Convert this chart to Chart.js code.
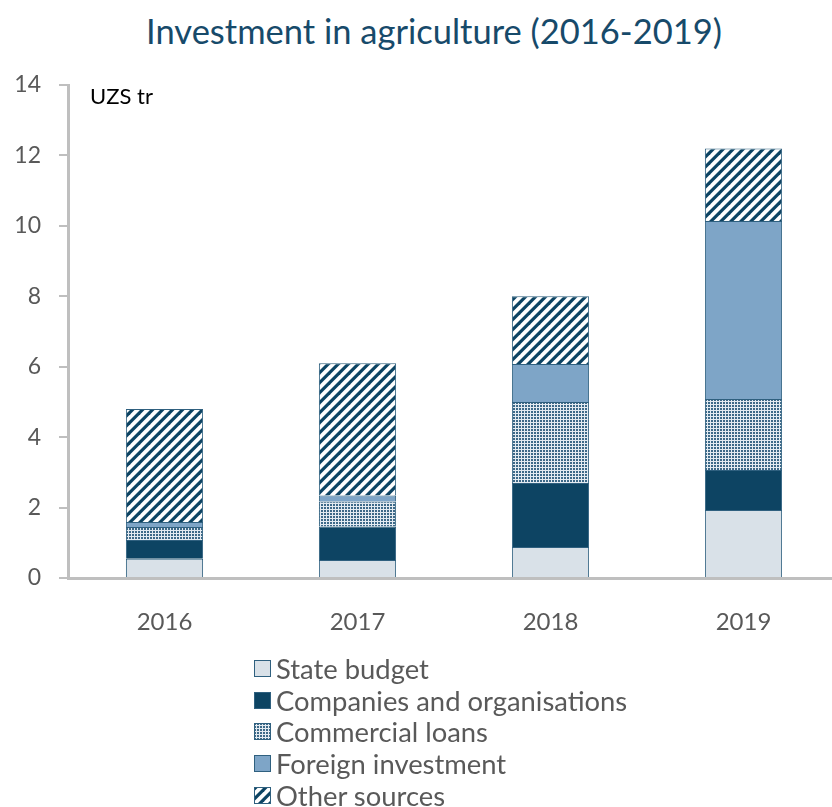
<!DOCTYPE html>
<html>
<head>
<meta charset="utf-8">
<script src="https://cdn.jsdelivr.net/npm/chart.js@4/dist/chart.umd.min.js"></script>
<style>
  html, body { margin: 0; padding: 0; background: #fff; }
  #wrap { position: relative; width: 832px; height: 807px; overflow: hidden; }
  #box { position: absolute; left: 0; top: 0; width: 850px; height: 640px; }
  #title { position: absolute; left: 0; top: 12px; width: 868px; text-align: center;
           font-family: Lato, sans-serif; font-size: 34.5px; line-height: 38px; color: #174a6a; }
  #legend { position: absolute; left: 254px; top: 653px; font-family: Lato, sans-serif;
            font-size: 27.4px; color: #595959; }
  #legend div { height: 31.6px; display: flex; align-items: center; }
  #legend canvas { margin-right: 5px; }
</style>
</head>
<body>
<div id="wrap">
  <div id="title">Investment in agriculture (2016-2019)</div>
  <div id="box"><canvas id="invChart"></canvas></div>
  <div id="legend"></div>
</div>
<script>
var years = ['2016', '2017', '2018', '2019'];
var stateBudget = [0.55, 0.51, 0.88, 1.93];
var companies = [0.53, 0.95, 1.82, 1.14];
var commercialLoans = [0.37, 0.71, 2.30, 2.01];
var foreignInvestment = [0.14, 0.17, 1.08, 5.06];
var otherSources = [3.21, 3.76, 1.92, 2.06];
var yTicks = [0, 2, 4, 6, 8, 10, 12, 14];

var navy = '#0d4463';
var edge = '#2f607f';

function dotPattern() {
  var c = document.createElement('canvas');
  c.width = 3; c.height = 3;
  var g = c.getContext('2d');
  g.fillStyle = '#e4ebf1';
  g.fillRect(0, 0, 3, 3);
  g.fillStyle = '#3d6988';
  g.fillRect(0, 0, 2, 2);
  return g.createPattern(c, 'repeat');
}

function stripePattern() {
  var c = document.createElement('canvas');
  c.width = 10; c.height = 10;
  var g = c.getContext('2d');
  g.fillStyle = '#fff';
  g.fillRect(0, 0, 10, 10);
  g.fillStyle = navy;
  // "/" stripes, wrapped so the tile repeats seamlessly
  [-10, 0, 10].forEach(function (o) {
    g.beginPath();
    g.moveTo(o, 10);
    g.lineTo(o + 4.5, 10);
    g.lineTo(o + 14.5, 0);
    g.lineTo(o + 10, 0);
    g.closePath();
    g.fill();
  });
  return g.createPattern(c, 'repeat');
}

var series = [
  { label: 'State budget', data: stateBudget, fill: '#d9e1e8' },
  { label: 'Companies and organisations', data: companies, fill: navy },
  { label: 'Commercial loans', data: commercialLoans, fill: dotPattern() },
  { label: 'Foreign investment', data: foreignInvestment, fill: '#7ea5c7' },
  { label: 'Other sources', data: otherSources, fill: stripePattern() }
];

var unitLabel = {
  id: 'unitLabel',
  afterDraw: function (chart) {
    var ctx = chart.ctx;
    var y = chart.scales.y.getPixelForValue(14);
    ctx.save();
    ctx.font = '22px Lato, sans-serif';
    ctx.fillStyle = '#000';
    ctx.textBaseline = 'middle';
    ctx.fillText('UZS tr', chart.chartArea.left + 22, y + 12);
    ctx.restore();
  }
};

var chart = new Chart(document.getElementById('invChart').getContext('2d'), {
  type: 'bar',
  data: {
    labels: years,
    datasets: series.map(function (s) {
      return {
        label: s.label, data: s.data, backgroundColor: s.fill,
        borderColor: edge, borderWidth: 1,
        barPercentage: 0.4, categoryPercentage: 1
      };
    })
  },
  options: {
    responsive: true,
    maintainAspectRatio: false,
    animation: false,
    layout: { padding: { left: 0, right: 10, top: 85, bottom: 2 } },
    plugins: {
      legend: { display: false },
      tooltip: { enabled: false }
    },
    scales: {
      x: {
        stacked: true,
        afterFit: function (s) { s.height = 60; },
        grid: { display: false },
        border: { color: '#bfbfbf', width: 3 },
        ticks: { color: '#595959', padding: 22, font: { family: 'Lato, sans-serif', size: 24 } }
      },
      y: {
        stacked: true,
        min: 0, max: 14,
        afterFit: function (s) { s.width = 68; },
        afterBuildTicks: function (s) { s.ticks = yTicks.map(function (v) { return { value: v }; }); },
        grid: { drawOnChartArea: false, tickLength: 9, color: '#bfbfbf', lineWidth: 2 },
        border: { color: '#bfbfbf', width: 3 },
        ticks: { color: '#595959', padding: 18, font: { family: 'Lato, sans-serif', size: 23 } }
      }
    }
  },
  plugins: [unitLabel]
});

// legend as a single column under the chart
var legend = document.getElementById('legend');
chart.data.datasets.forEach(function (ds) {
  var row = document.createElement('div');
  var sw = document.createElement('canvas');
  sw.width = 17; sw.height = 17;
  var g = sw.getContext('2d');
  g.fillStyle = ds.backgroundColor;
  g.fillRect(0, 0, 17, 17);
  g.strokeStyle = edge;
  g.lineWidth = 1;
  g.strokeRect(0.5, 0.5, 16, 16);
  row.appendChild(sw);
  row.appendChild(document.createTextNode(ds.label));
  legend.appendChild(row);
});
</script>
</body>
</html>
